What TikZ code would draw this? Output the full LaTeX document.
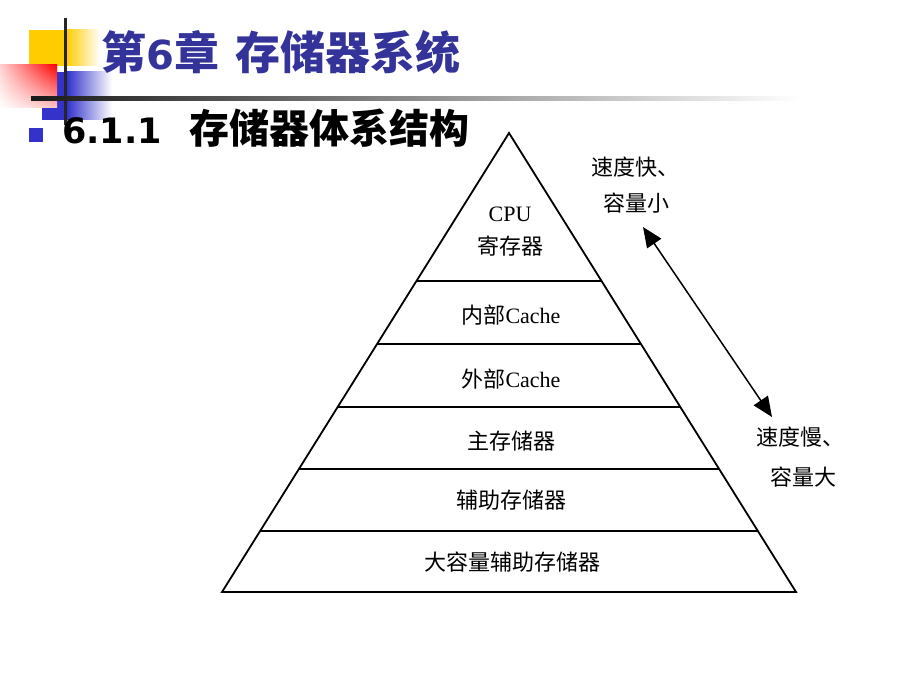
\documentclass[tikz,border=0pt]{standalone}
\usepackage{fontspec}
\setmainfont{Liberation Serif}
\newfontfamily\cjk{Noto Sans CJK SC}
\newfontfamily\vsans{DejaVu Sans}
\usetikzlibrary{arrows.meta,calc,shadings}
\definecolor{titleblue}{RGB}{51,51,153}
\definecolor{decoblue}{RGB}{51,51,204}
\definecolor{decoyellow}{RGB}{255,204,0}
\definecolor{decored}{RGB}{255,0,0}
\begin{document}
\begin{tikzpicture}[x=1pt,y=-1pt,
  lab/.style={inner sep=0pt,font=\fontsize{22}{22}\selectfont\cjk},
  layer/.style={line width=1.8pt},
  twoarrow/.style={line width=1.5pt,{Triangle[length=20pt,width=17pt]}-{Triangle[length=20pt,width=17pt]}}]
\useasboundingbox (0,0) rectangle (920,690);
% decoration top-left
\fill[decoyellow] (29,30) rectangle (66,66);
\shade[left color=decoyellow,right color=white] (66,30) rectangle (100,66);
\fill[decoblue] (42,72) rectangle (67,120);
\shade[left color=decoblue,right color=white] (67,72) rectangle (112,120);
\shade[upper right=decored,upper left=decored!18!white,lower right=decored!22!white,lower left=white] (0,65) rectangle (57,108);
\draw[line width=3pt,black!85] (65,18) -- (65,125);
\shade[left color=black!90,right color=white] (31,97) rectangle (800,101);
% title
\node[anchor=base west,inner sep=0pt,text=titleblue] (title) at (101,70)
  {\fontsize{45}{45}\selectfont\bfseries{\cjk 第}{\vsans\fontsize{40}{40}\selectfont 6}{\cjk 章}\hspace{16pt}{\cjk 存储器系统}};
% subtitle
\fill[decoblue] (29,128) rectangle (43,142);
\node[anchor=base west,inner sep=0pt] (sub) at (62,143)
  {{\vsans\bfseries\fontsize{35}{35}\selectfont 6.1.1}\hspace{28pt}{\cjk\bfseries\fontsize{40}{40}\selectfont 存储器体系结构}};
% pyramid
\coordinate (A) at (509,133);
\coordinate (BL) at (222,592);
\coordinate (BR) at (796,592);
\draw[layer,line join=miter] (BL) -- (A) -- (BR) -- cycle;
\foreach \t in {0.3224,0.4597,0.5969,0.7320,0.8671}
  \draw[layer] ($(A)!\t!(BL)$) -- ($(A)!\t!(BR)$);
\node[lab] (cpu) at (510,214) {\fontspec{Liberation Serif}CPU};
\node[lab] (reg) at (510,246) {寄存器};
\node[lab] (l1) at (511,315) {内部{\fontspec{Liberation Serif}Cache}};
\node[lab] (l2) at (511,379) {外部{\fontspec{Liberation Serif}Cache}};
\node[lab] (mm) at (511,441) {主存储器};
\node[lab] (aux) at (511,500) {辅助存储器};
\node[lab] (mass) at (512,562) {大容量辅助存储器};
% side labels
\node[lab,anchor=west] (fast1) at (591,167) {速度快、};
\node[lab,anchor=west] (fast2) at (603,203) {容量小};
\node[lab,anchor=west] (slow1) at (756,437) {速度慢、};
\node[lab,anchor=west] (slow2) at (770,477) {容量大};
\coordinate (up) at (643,227);
\coordinate (down) at (772,417);
\draw[twoarrow] (up) -- (down);
\end{tikzpicture}
\end{document}
